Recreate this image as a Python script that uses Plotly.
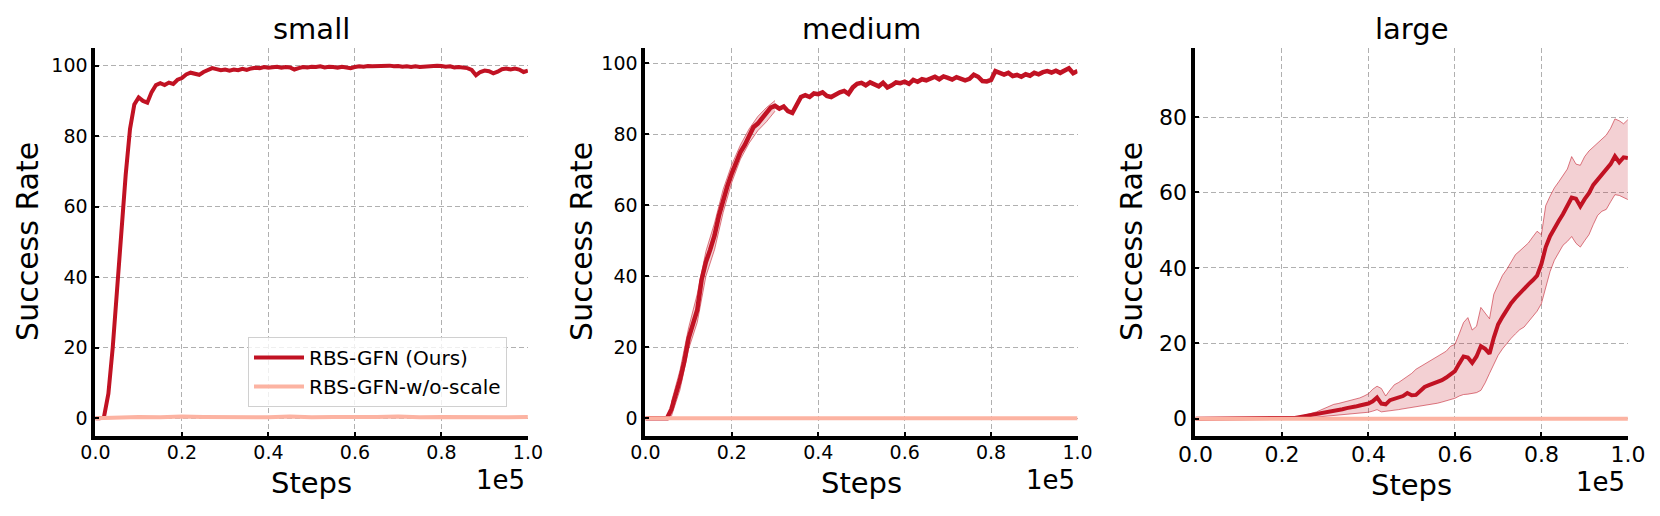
import plotly.graph_objects as go

# steps sampled every 1000 (axis shown in units of 1e5)
steps = [i * 1000 for i in range(101)]

# small: RBS-GFN (Ours) mean success rate
small_ours = [
    0, 0, 0.5, 7, 20, 37, 52, 69, 82, 89,
    91, 90, 89.5, 92.5, 94.5, 95, 94.5, 95.2, 94.8, 96,
    96.5, 97.5, 98, 97.8, 97.4, 98.2, 98.8, 99.3, 99, 98.7,
    98.9, 98.6, 98.9, 98.7, 99.1, 98.8, 99.2, 99.4, 99.3, 99.6,
    99.4, 99.5, 99.7, 99.4, 99.6, 99.5, 98.9, 99.3, 99.6, 99.5,
    99.7, 99.6, 99.8, 99.5, 99.7, 99.6, 99.4, 99.7, 99.5, 99.3,
    99.6, 99.8, 99.7, 99.9, 99.8, 99.9, 100, 99.9, 100, 99.8,
    99.9, 99.7, 99.8, 99.6, 99.8, 99.6, 99.7, 99.9, 99.8, 100,
    99.9, 99.7, 99.8, 99.5, 99.6, 99.4, 99.3, 98.8, 97.3, 98.2,
    98.6, 98.4, 97.8, 98.3, 99, 99.2, 98.9, 99.2, 98.9, 98.2,
    98.6,
]
# small: RBS-GFN-w/o-scale (every 5000 steps)
steps_coarse = [i * 5000 for i in range(21)]
small_noscale = [0, 0.3, 0.4, 0.3, 0.5, 0.4, 0.3, 0.4, 0.3, 0.5, 0.3,
                 0.4, 0.3, 0.4, 0.5, 0.3, 0.4, 0.3, 0.4, 0.3, 0.4]

# medium
medium_ours = [
    0, 0, 0, 0, 0, 0, 2.5, 6.5, 10.8, 16,
    22.5, 26.5, 30.5, 39, 44, 47.5, 51.5, 57, 61.5, 65.5,
    69, 72, 75, 77, 79.5, 82, 83, 84.5, 85.5, 87.5,
    88, 87.2, 87.8, 86.5, 86, 88.5, 90.5, 91, 90.5, 91.5,
    91.3, 91.8, 90.8, 90.5, 91.2, 91.8, 92.2, 91.4, 93.2, 94.2,
    94.5, 93.8, 94.6, 94.2, 93.5, 94.5, 93.2, 93.8, 94.6, 94.4,
    94.8, 94.2, 95.3, 94.8, 95.5, 95.2, 95.8, 96.2, 95.5, 96.3,
    95.9, 95.4, 96.1, 95.6, 95.2, 95.6, 96.8, 96.2, 95, 94.9,
    95.3, 97.8, 97.2, 96.8, 97.3, 96.4, 96.7, 96.2, 96.9, 96.5,
    97.3, 96.9, 97.5, 97.8, 97.4, 97.9, 97.3, 97.8, 98.6, 97.2,
    97.8,
]
medium_band_steps = [6000, 8000, 10000, 12000, 14000, 16000, 18000,
                     20000, 22000, 24000, 26000, 28000, 30000]
medium_band_hi = [4.5, 13.5, 25.5, 35, 47, 55, 64.5, 71.5, 77, 81.5, 85, 87.5, 89.5]
medium_band_lo = [0.5, 8, 19.5, 27, 40, 47.5, 58, 66.5, 73, 77.5, 81, 83.5, 86.5]
medium_noscale = [0] * 21

# large
large_ours = [
    0, 0, 0, 0, 0, 0, 0, 0, 0, 0,
    0, 0, 0, 0, 0, 0, 0, 0, 0, 0,
    0, 0, 0.1, 0.2, 0.4, 0.6, 0.8, 1.0, 1.1, 1.4,
    1.6, 1.9, 2.0, 2.3, 2.5, 2.8, 2.9, 3.2, 3.5, 3.7,
    4.0, 4.6, 5.6, 4.0, 3.8, 4.9, 5.3, 5.7, 6.0, 6.8,
    6.2, 6.3, 7.5, 8.4, 8.9, 9.3, 9.8, 10.2, 10.9, 11.6,
    12.6, 14.6, 16.5, 16.2, 14.8, 16.5, 19.2, 18.5, 17.2, 21.5,
    25.0, 27.0, 29.0, 30.6, 32.0, 33.3, 34.4, 35.6, 36.7, 37.9,
    41.0, 45.5, 48.4, 50.6, 52.4, 54.3, 56.6, 58.6, 58.3, 56.3,
    58.2, 59.8, 62.0, 63.4, 64.6, 65.9, 67.5, 69.6, 68.0, 69.3,
    69.1,
]
large_hi = [
    0, 0, 0, 0, 0, 0, 0, 0, 0, 0,
    0, 0, 0, 0, 0, 0, 0, 0, 0, 0,
    0, 0, 0.1, 0.2, 0.5, 0.8, 1.1, 1.4, 1.8, 2.3,
    2.8, 3.4, 3.8, 4.0, 4.3, 4.6, 4.7, 5.1, 5.5, 6.0,
    6.6, 7.8, 8.6, 8.0, 6.0, 7.6, 9.0, 9.6, 10.4, 11.3,
    12.0, 13.1, 13.8, 14.5, 15.1, 15.7, 16.4, 17.2, 17.9, 19.2,
    19.7, 22.5, 25.5, 26.8, 23.5, 24.5, 29.5, 28.0, 26.5, 33.0,
    35.5, 38.0, 39.6, 41.5, 43.5, 44.5, 45.5, 46.6, 48.2, 49.7,
    48.8, 56.5, 59.0, 61.2, 62.8, 64.5, 66.2, 69.5, 67.5, 67.2,
    69.5, 71.0, 72.0, 73.0, 74.2, 75.2, 77.0, 79.5, 79.0, 78.2,
    79.3,
]
large_lo = [
    0, 0, 0, 0, 0, 0, 0, 0, 0, 0,
    0, 0, 0, 0, 0, 0, 0, 0, 0, 0,
    0, 0, 0, 0, 0.1, 0.1, 0.2, 0.3, 0.4, 0.5,
    0.6, 0.7, 0.8, 0.9, 1.0, 1.1, 1.2, 1.3, 1.4, 1.5,
    1.7, 2.0, 2.4, 1.8, 1.9, 2.1, 2.2, 2.4, 2.6, 2.8,
    2.9, 3.0, 3.2, 3.4, 3.6, 3.8, 4.1, 4.4, 4.7, 5.0,
    5.4, 6.0, 6.4, 6.5, 6.6, 6.9, 7.5, 9.5, 12.0, 14.5,
    16.8, 18.5, 20.0, 21.3, 22.5, 23.6, 24.3, 25.8, 27.3, 28.5,
    30.5, 34.5, 39.0, 42.0, 44.0, 46.0, 47.0, 48.3, 46.5, 45.5,
    47.2, 48.8, 51.5, 53.9, 55.0, 55.5, 57.5, 59.4, 59.2, 58.7,
    58.1,
]
large_noscale = [0] * 21

panel_titles = ["small", "medium", "large"]
x_ticks = [0, 20000, 40000, 60000, 80000, 100000]
x_ticktext = ["0.0", "0.2", "0.4", "0.6", "0.8", "1.0"]

RED = "#c11223"
PALE = "#fcb3a2"
BAND = "rgba(193,18,35,0.2)"
EDGE = "rgba(193,18,35,0.55)"
FONT = "DejaVu Sans"

W, H = 1660, 516
# plot areas in pixels (left, right); shared top/bottom
areas = [(95.4, 527.9), (645.4, 1077.5), (1195.4, 1627.9)]
top_px, bot_px = 48, 436
y_ranges = [[-5, 105], [-5, 104.3], [-4.6, 98.3]]
y_ticks = [[0, 20, 40, 60, 80, 100], [0, 20, 40, 60, 80, 100], [0, 20, 40, 60, 80]]
tick_sizes = [19, 19, 22]

fig = go.Figure()

# small
fig.add_trace(go.Scatter(x=steps, y=small_ours, mode="lines", name="RBS-GFN (Ours)",
                         line=dict(color=RED, width=4), xaxis="x", yaxis="y"))
fig.add_trace(go.Scatter(x=steps_coarse, y=small_noscale, mode="lines", name="RBS-GFN-w/o-scale",
                         line=dict(color=PALE, width=4), xaxis="x", yaxis="y"))

# medium
fig.add_trace(go.Scatter(x=medium_band_steps, y=medium_band_lo, mode="lines", showlegend=False,
                         line=dict(color=EDGE, width=1), xaxis="x2", yaxis="y2"))
fig.add_trace(go.Scatter(x=medium_band_steps, y=medium_band_hi, mode="lines", showlegend=False,
                         fill="tonexty", fillcolor=BAND,
                         line=dict(color=EDGE, width=1), xaxis="x2", yaxis="y2"))
fig.add_trace(go.Scatter(x=steps, y=medium_ours, mode="lines", showlegend=False,
                         line=dict(color=RED, width=4.5), xaxis="x2", yaxis="y2"))
fig.add_trace(go.Scatter(x=steps_coarse, y=medium_noscale, mode="lines", showlegend=False,
                         line=dict(color=PALE, width=4), xaxis="x2", yaxis="y2"))

# large
fig.add_trace(go.Scatter(x=steps, y=large_lo, mode="lines", showlegend=False,
                         line=dict(color=EDGE, width=1), xaxis="x3", yaxis="y3"))
fig.add_trace(go.Scatter(x=steps, y=large_hi, mode="lines", showlegend=False,
                         fill="tonexty", fillcolor=BAND,
                         line=dict(color=EDGE, width=1), xaxis="x3", yaxis="y3"))
fig.add_trace(go.Scatter(x=steps, y=large_ours, mode="lines", showlegend=False,
                         line=dict(color=RED, width=4), xaxis="x3", yaxis="y3"))
fig.add_trace(go.Scatter(x=steps_coarse, y=large_noscale, mode="lines", showlegend=False,
                         line=dict(color=PALE, width=4), xaxis="x3", yaxis="y3"))

ydom = [(H - bot_px) / H, (H - top_px) / H]
layout = dict(
    width=W, height=H,
    margin=dict(l=0, r=0, t=0, b=0),
    paper_bgcolor="white", plot_bgcolor="white",
    font=dict(family=FONT, color="black"),
    legend=dict(x=248 / W, y=(H - 337) / H, xanchor="left", yanchor="top",
                traceorder="normal",
                bgcolor="rgba(255,255,255,0.8)", bordercolor="#d0d0d0", borderwidth=1,
                font=dict(size=20, family=FONT), itemwidth=50, tracegroupgap=0),
)
annotations = []
for i, (l, r) in enumerate(areas):
    sfx = "" if i == 0 else str(i + 1)
    layout["xaxis" + sfx] = dict(
        domain=[l / W, r / W], range=[0, 100000], anchor="y" + sfx, automargin=False,
        tickvals=x_ticks, ticktext=x_ticktext, ticks="inside", ticklen=4, tickwidth=1.5,
        tickcolor="black", tickfont=dict(size=tick_sizes[i]), ticklabelstandoff=-4,
        showline=True, linecolor="black", linewidth=4,
        showgrid=True, gridcolor="#b0b0b0", gridwidth=1, griddash="5px,3px", zeroline=False,
    )
    layout["yaxis" + sfx] = dict(
        domain=ydom, range=y_ranges[i], anchor="x" + sfx, automargin=False,
        tickvals=y_ticks[i], ticks="inside", ticklen=4, tickwidth=1.5,
        tickcolor="black", tickfont=dict(size=tick_sizes[i]),
        showline=True, linecolor="black", linewidth=4,
        showgrid=True, gridcolor="#b0b0b0", gridwidth=1, griddash="5px,3px", zeroline=False,
    )
    cx = (l + r) / 2 / W
    annotations.append(dict(text=panel_titles[i], x=cx, y=1 - 29 / H, xref="paper", yref="paper",
                            xanchor="center", yanchor="middle", showarrow=False,
                            font=dict(size=29)))
    annotations.append(dict(text="Steps", x=cx, y=1 - (483 + 2 * (i == 2)) / H, xref="paper", yref="paper",
                            xanchor="center", yanchor="middle", showarrow=False,
                            font=dict(size=29)))
    annotations.append(dict(text="1e5", x=(r - 1) / W, y=1 - (480 + 2 * (i == 2)) / H, xref="paper", yref="paper",
                            xanchor="right", yanchor="middle", showarrow=False,
                            font=dict(size=26)))
    annotations.append(dict(text="Success Rate", x=(l - 68 + 4 * (i > 0)) / W, y=1 - 241.5 / H,
                            xref="paper", yref="paper", textangle=-90,
                            xanchor="center", yanchor="middle", showarrow=False,
                            font=dict(size=30)))
layout["annotations"] = annotations
fig.update_layout(**layout)

# page body margin would shift the figure by 8px
fig.write_html("out.html", config={"displayModeBar": False},
               post_script="document.body.style.margin='0';")
